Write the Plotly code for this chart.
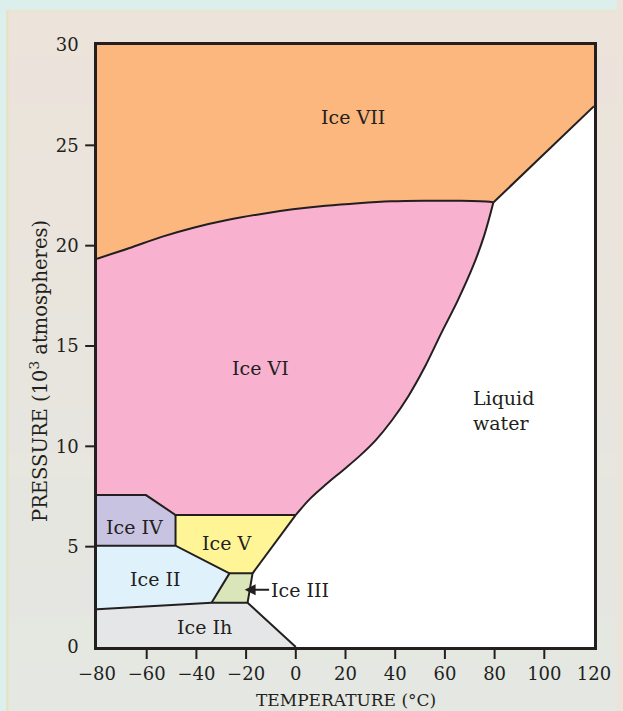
import plotly.graph_objects as go

# ---------------- data ----------------
x_ticks = [-80, -60, -40, -20, 0, 20, 40, 60, 80, 100, 120]
y_ticks = [0, 5, 10, 15, 20, 25, 30]

# phase regions (temperature °C, pressure 10^3 atm)
ih_x = [-80, -33.9, -19.4, 0, -80]
ih_y = [1.88, 2.21, 2.21, 0, 0]
iii_x = [-33.9, -26.7, -17.4, -19.4]
iii_y = [2.21, 3.67, 3.67, 2.21]
ii_x = [-80, -80, -48.4, -26.7, -33.9]
ii_y = [1.88, 5.05, 5.05, 3.67, 2.21]
iv_x = [-80, -80, -60.3, -48.4, -48.4]
iv_y = [5.05, 7.57, 7.57, 6.58, 5.05]
v_x = [-48.4, 0, -17.4, -26.7, -48.4]
v_y = [6.58, 6.58, 3.67, 3.67, 5.05]

# curved boundaries
vi_vii_x = [-80, -67.2, -54.0, -40.8, -27.6, -14.4, -1.2, 12.0, 25.2, 38.4, 51.6, 64.8, 78.0, 79.5]
vi_vii_y = [19.35, 19.87, 20.44, 20.91, 21.28, 21.57, 21.81, 21.99, 22.12, 22.21, 22.24, 22.24, 22.19, 22.15]
vi_liq_x = [0, 5.7, 12.3, 18.9, 25.5, 32.1, 38.7, 45.3, 51.9, 58.5, 65.1, 71.4, 75.8, 79.5]
vi_liq_y = [6.58, 7.38, 8.12, 8.8, 9.5, 10.3, 11.3, 12.5, 13.95, 15.63, 17.25, 19.0, 20.5, 22.15]
vii_liq_x = [79.5, 120]
vii_liq_y = [22.15, 26.95]

labels = ["Ice VII", "Ice VI", "Liquid<br>water", "Ice IV", "Ice V", "Ice II", "Ice Ih"]
label_x = [23, -14.3, 83.6, -65, -27.7, -56.6, -36.8]
label_y = [26.4, 13.9, 11.8, 6.0, 5.2, 3.4, 1.0]
iii_label = "Ice III"
iii_tip = (-20.6, 2.85)

# ---------------- styling ----------------
FONT = "DejaVu Serif"
INK = "#231f20"
C_VII = "#fbb77e"
C_VI = "#f8b1cf"
C_IV = "#c8c3e1"
C_V = "#fff596"
C_II = "#dff1fb"
C_III = "#dae6b9"
C_IH = "#e5e6e8"

W, H = 623, 711
ML, MR, MT, MB = 97, 21, 45, 64
PW, PH = W - ML - MR, H - MT - MB


def px(xp):
    return (xp - ML) / PW


def py(yp):
    return (H - MB - yp) / PH


fig = go.Figure()


def region(xs, ys, color):
    fig.add_trace(go.Scatter(x=xs, y=ys, fill="toself", fillcolor=color, mode="lines",
                             line=dict(width=0), hoverinfo="skip", showlegend=False))


# build VI and VII polygons from boundaries
vi_x = [-80, -80] + vi_vii_x[1:] + vi_liq_x[::-1][1:] + [-48.4, -60.3]
vi_y = [7.57, 19.35] + vi_vii_y[1:] + vi_liq_y[::-1][1:] + [6.58, 7.57]
vii_x = [-80, -80, 120, 120] + vi_vii_x[::-1]
vii_y = [19.35, 30, 30, 26.95] + vi_vii_y[::-1]

region(vii_x, vii_y, C_VII)
region(vi_x, vi_y, C_VI)
region(ih_x, ih_y, C_IH)
region(iii_x, iii_y, C_III)
region(ii_x, ii_y, C_II)
region(iv_x, iv_y, C_IV)
region(v_x, v_y, C_V)


def boundary(xs, ys, shape="linear"):
    fig.add_trace(go.Scatter(x=xs, y=ys, mode="lines",
                             line=dict(color=INK, width=2, shape=shape, smoothing=1.0),
                             hoverinfo="skip", showlegend=False))


boundary(vi_vii_x, vi_vii_y, "spline")
boundary(vi_liq_x, vi_liq_y, "spline")
boundary(vii_liq_x, vii_liq_y)
boundary(ih_x[:4], ih_y[:4])
boundary(iii_x, iii_y)
boundary([-80, -48.4, -26.7], [5.05, 5.05, 3.67])
boundary([-48.4, -48.4], [5.05, 6.58])
boundary([-80, -60.3, -48.4, 0], [7.57, 7.57, 6.58, 6.58])
boundary([0, -17.4], [6.58, 3.67])

for t, x, y in zip(labels, label_x, label_y):
    fig.add_annotation(x=x, y=y, text=t, showarrow=False,
                       font=dict(family=FONT, size=19, color=INK), align="left")

fig.add_annotation(x=iii_tip[0], y=iii_tip[1], text=iii_label, showarrow=True,
                   ax=55, ay=0, arrowhead=2, arrowsize=1.1, arrowwidth=2, arrowcolor=INK,
                   standoff=0, font=dict(family=FONT, size=19, color=INK))

# ---------------- background decoration ----------------
shapes = []
top = (236, 227, 218)
bot = (228, 231, 226)
n = 30
for i in range(n):
    f = i / (n - 1)
    c = tuple(round(top[k] + (bot[k] - top[k]) * f) for k in range(3))
    y0p = 10 + (H - 10) * i / n
    y1p = 10 + (H - 10) * (i + 1) / n
    shapes.append(dict(type="rect", xref="paper", yref="paper", x0=px(6), x1=px(W + 2),
                       y0=py(y1p + 1), y1=py(y0p), fillcolor="rgb(%d,%d,%d)" % c,
                       line=dict(width=0), layer="below"))
shapes.append(dict(type="rect", xref="paper", yref="paper", x0=px(-2), x1=px(W + 2),
                   y0=py(10), y1=py(-2), fillcolor="#dcefed", line=dict(width=0), layer="below"))
shapes.append(dict(type="rect", xref="paper", yref="paper", x0=px(-2), x1=px(5),
                   y0=py(H + 2), y1=py(10), fillcolor="#dcefed", line=dict(width=0), layer="below"))
shapes.append(dict(type="line", xref="paper", yref="paper", x0=px(6), x1=px(6),
                   y0=py(H + 2), y1=py(10), line=dict(color="#e3e4bd", width=2), layer="below"))
shapes.append(dict(type="line", xref="paper", yref="paper", x0=px(6), x1=px(W + 2),
                   y0=py(10.5), y1=py(10.5), line=dict(color="#e8e6c8", width=1.5), layer="below"))
# white plotting area (liquid water)
shapes.append(dict(type="rect", xref="x domain", yref="y domain", x0=0, x1=1, y0=0, y1=1,
                   fillcolor="white", line=dict(width=0), layer="below"))

# tick marks (only inner ticks are drawn in the reference)
TL = 12
for v in x_ticks[1:-1]:
    shapes.append(dict(type="line", xref="x", yref="paper", x0=v, x1=v, y0=0, y1=-TL / PH,
                       line=dict(color=INK, width=2)))
for v in y_ticks[1:-1]:
    shapes.append(dict(type="line", xref="paper", yref="y", x0=0, x1=-TL / PW, y0=v, y1=v,
                       line=dict(color=INK, width=2)))

fig.update_layout(shapes=shapes)

# axis titles
fig.add_annotation(xref="paper", yref="paper", x=px(350), y=py(700), text="TEMPERATURE (°C)",
                   xanchor="center", yanchor="middle",
                   showarrow=False, font=dict(family=FONT, size=17, color=INK))
fig.add_annotation(xref="paper", yref="paper", x=px(38), y=py(371),
                   xanchor="center", yanchor="middle",
                   text="PRESSURE (10<sup>3</sup> atmospheres)", textangle=-90,
                   showarrow=False, font=dict(family=FONT, size=19.5, color=INK))

fig.update_xaxes(range=[-80, 120], tickvals=x_ticks,
                 ticktext=[str(v).replace("-", "\u2212") for v in x_ticks],
                 ticks="outside", ticklen=9, tickcolor="rgba(0,0,0,0)", showgrid=False, zeroline=False,
                 showline=True, linecolor=INK, linewidth=2.5, mirror=True,
                 tickfont=dict(family=FONT, size=18, color=INK))
fig.update_yaxes(range=[0, 30], tickvals=y_ticks, ticks="outside", ticklen=12,
                 tickcolor="rgba(0,0,0,0)", showgrid=False, zeroline=False,
                 showline=True, linecolor=INK, linewidth=2.5, mirror=True,
                 tickfont=dict(family=FONT, size=18, color=INK))

fig.update_layout(width=W, height=H, margin=dict(l=ML, r=MR, t=MT, b=MB, pad=0),
                  paper_bgcolor="rgb(236,227,218)", plot_bgcolor="white", showlegend=False)

fig.write_html("out.html", config={"displayModeBar": False},
               post_script="document.body.style.margin='0';document.body.style.padding='0';")
